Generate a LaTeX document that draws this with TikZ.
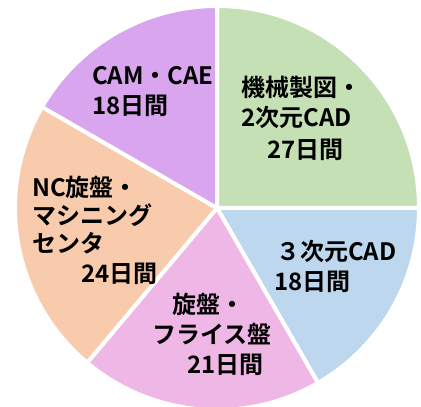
\documentclass[tikz,border=0pt]{standalone}
\usepackage{fontspec}
\usepackage{tikz}
\newfontfamily\jpfont{Noto Sans CJK JP Bold}
\definecolor{drafting}{RGB}{197,224,180}
\definecolor{cadthree}{RGB}{189,215,238}
\definecolor{lathe}{RGB}{238,183,230}
\definecolor{machining}{RGB}{248,203,173}
\definecolor{camcae}{RGB}{216,165,238}

\begin{document}
\begin{tikzpicture}[
			x=1pt, y=1pt,
			slice/.style={draw=white, line width=4pt, line join=round},
			txt/.style={anchor=north west, inner sep=0pt, align=left, font=\jpfont\fontsize{24}{30}\selectfont}
		]
		\useasboundingbox (0,0) rectangle (421,407);
		\coordinate (c) at (217,199);

		% slices: 27, 18, 21, 24, 18 days of 108
		\filldraw[slice, fill=drafting] (c) -- ++(0:202) arc[start angle=0, end angle=90, radius=202] -- cycle;
		\filldraw[slice, fill=cadthree] (c) -- ++(-60:202) arc[start angle=-60, end angle=0, radius=202] -- cycle;
		\filldraw[slice, fill=lathe] (c) -- ++(-130:202) arc[start angle=-130, end angle=-60, radius=202] -- cycle;
		\filldraw[slice, fill=machining] (c) -- ++(150:202) arc[start angle=150, end angle=230, radius=202] -- cycle;
		\filldraw[slice, fill=camcae] (c) -- ++(90:202) arc[start angle=90, end angle=150, radius=202] -- cycle;

		\node[txt] (drawing) at (241,331) {機械製図・\\2次元CAD\\[2pt]\hspace*{26pt}27日間};
		\node[txt] (cad3d) at (274,167) {\hspace*{2pt}３次元CAD\\18日間};
		\node[txt] (turning) at (152,114) {\hspace*{20pt}旋盤・\\フライス盤\\\hspace*{35pt}21日間};
		\node[txt] (nclathe) at (32,231) {NC旋盤・\\[-2pt]マシニング\\[-2pt]センタ\\\hspace*{49pt}24日間};
		\node[txt] (cam) at (92,341) {CAM・CAE\\18日間};

	\end{tikzpicture}
\end{document}
